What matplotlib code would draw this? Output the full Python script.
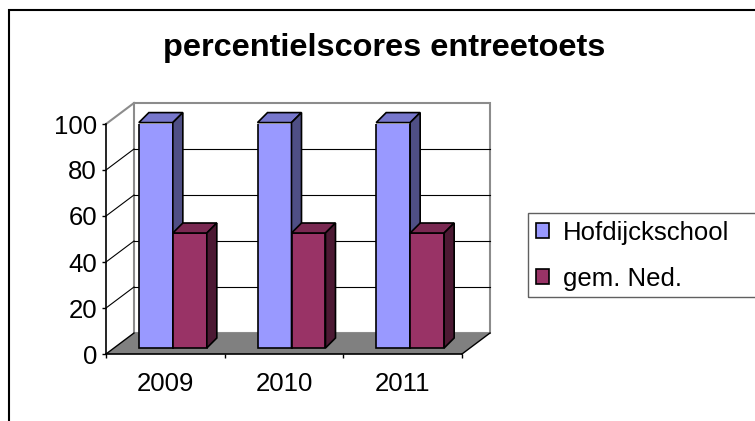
import matplotlib
matplotlib.use("Agg")
import matplotlib.pyplot as plt
from matplotlib.patches import Polygon, Rectangle, Patch

plt.rcParams['font.family'] = ['Liberation Sans', 'DejaVu Sans']

# data
years = ['2009', '2010', '2011']
hofdijck = [98, 98, 98]
gem_ned = [50, 50, 50]
series_names = ['Hofdijckschool', 'gem. Ned.']
yticks = [0, 20, 40, 60, 80, 100]

front_colors = ['#9999FF', '#993366']
top_colors = ['#7777CC', '#7A2952']
side_colors = ['#4F4F85', '#4C1933']

W, H = 755, 421
fig = plt.figure(figsize=(W / 100, H / 100), dpi=100)
ax = fig.add_axes([106 / W, 67 / H, 356 / W, 230 / H])
ax.set_xlim(-0.5, 2.5)
ax.set_ylim(0, 100)
ax.patch.set_alpha(0)

# pixel -> data unit helpers
ux = 3 / 356
uy = 100 / 230

def off(px, py):
    return px * ux, py * uy

# wall depth and bar placement inside the depth
wdx, wdy = off(28, 21)
fdx, fdy = off(7.5, 6)
tdx, tdy = off(10, 10)
bw = 34 / 118.7

x_lo, x_hi = -0.5, 2.5

# back wall
wall = Polygon([(x_lo + wdx, wdy), (x_hi + wdx, wdy), (x_hi + wdx, 100 + wdy), (x_lo + wdx, 100 + wdy)],
               closed=True, facecolor='white', edgecolor='#8c8c8c', lw=1.5, zorder=0.5, clip_on=False)
ax.add_patch(wall)

# gridlines on back wall and left side wall
for v in yticks[1:-1]:
    ax.plot([x_lo + wdx, x_hi + wdx], [v + wdy, v + wdy], color='black', lw=0.8, zorder=0.6, clip_on=False)
    ax.plot([x_lo, x_lo + wdx], [v, v + wdy], color='black', lw=0.8, zorder=0.6, clip_on=False)
ax.plot([x_lo, x_lo + wdx], [100, 100 + wdy], color='#8c8c8c', lw=1.5, zorder=0.6, clip_on=False)

# floor
floor = Polygon([(x_lo, 0), (x_hi, 0), (x_hi + wdx, wdy), (x_lo + wdx, wdy)],
                closed=True, facecolor='#808080', edgecolor='none', zorder=0.7, clip_on=False)
ax.add_patch(floor)
ax.plot([x_lo, x_lo + wdx], [0, wdy], color='black', lw=1, zorder=0.8, clip_on=False)
ax.plot([x_hi, x_hi + wdx], [0, wdy], color='black', lw=1, zorder=0.8, clip_on=False)

# bars
for j, vals in enumerate([hofdijck, gem_ned]):
    z = 3 + j
    xs = [i - bw + j * bw + fdx for i in range(len(years))]
    ax.bar(xs, vals, width=bw, bottom=fdy, align='edge',
           color=front_colors[j], edgecolor='black', lw=1.2, zorder=z)
    for x0, v in zip(xs, vals):
        top = v + fdy
        ax.add_patch(Polygon([(x0, top), (x0 + bw, top), (x0 + bw + tdx, top + tdy), (x0 + tdx, top + tdy)],
                             closed=True, facecolor=top_colors[j], edgecolor='black', lw=1.2, zorder=z,
                             clip_on=False))
        ax.add_patch(Polygon([(x0 + bw, fdy), (x0 + bw + tdx, fdy + tdy), (x0 + bw + tdx, top + tdy), (x0 + bw, top)],
                             closed=True, facecolor=side_colors[j], edgecolor='black', lw=1.2, zorder=z,
                             clip_on=False))

# axes
for s in ['top', 'right']:
    ax.spines[s].set_visible(False)
for s in ['left', 'bottom']:
    ax.spines[s].set_color('black')
    ax.spines[s].set_linewidth(1.2)
ax.set_yticks(yticks)
ax.set_yticklabels([str(t) for t in yticks], fontsize=18.5)
ax.tick_params(axis='y', length=3, width=1, pad=3.5, direction='out')
ax.set_xticks(range(len(years)))
ax.set_xticklabels(years, fontsize=18.5)
ax.set_xticks([-0.5, 0.5, 1.5, 2.5], minor=True)
ax.tick_params(axis='x', which='major', length=0, pad=13)
ax.tick_params(axis='x', which='minor', length=3, width=1, direction='out')

# title
fig.text(384.5 / W, 1 - 48 / H, 'percentielscores entreetoets', ha='center', va='center',
         fontsize=23.4, fontweight='bold')

# legend (frame drawn separately, it runs off the right edge)
handles = [Patch(facecolor=front_colors[k], edgecolor='black', lw=1.2) for k in range(2)]
fig.legend(handles, series_names, loc='upper left', bbox_to_anchor=(528 / W, 1 - 213 / H),
           fontsize=18.5, handlelength=0.5, handleheight=0.5, handletextpad=0.55,
           labelspacing=0.86, borderpad=0.3, borderaxespad=0, frameon=False)
fig.add_artist(Rectangle((528 / W, 1 - 297 / H), 1, 84 / H, transform=fig.transFigure,
                         fill=False, edgecolor='#606060', lw=1))

# outer chart frame (clipped at right and bottom)
fig.add_artist(Rectangle((9 / W, -1), 2, 2 - 10 / H, transform=fig.transFigure,
                         fill=False, edgecolor='black', lw=1.5))

fig.savefig('out.png', dpi=100)
